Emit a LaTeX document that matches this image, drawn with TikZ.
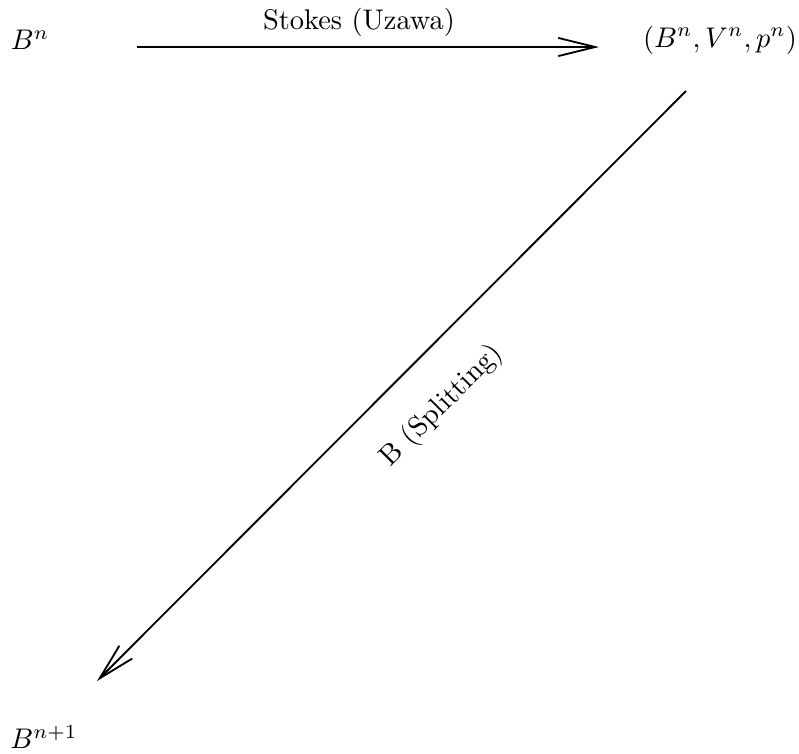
\documentclass[tikz,border=0pt]{standalone}
\usetikzlibrary{arrows.meta}
\begin{document}
\begin{tikzpicture}[x={(0.35207pt,0)},y={(0,-0.35207pt)},
  obj/.style={inner sep=0pt},
  arr/.style={line width=0.65pt,-{Straight Barb[length=13pt,width=6.4pt,line width=0.65pt]}},
  lbl/.style={inner sep=0pt}]
\useasboundingbox (0,0) rectangle (799,753);
\node[obj] (bn) at (30,40) {$B^n$};
\node[obj] (bvp) at (720,40) {$(B^n,V^n,p^n)$};
\node[obj] (bn1) at (44,737) {$B^{n+1}$};
\coordinate (h1) at (137,47);
\coordinate (h2) at (599,47);
\coordinate (d1) at (686,91);
\coordinate (d2) at (97,681);
\draw[arr] (h1) -- (h2);
\draw[arr] (d1) -- (d2);
\node[lbl] (stokes) at (359,22) {Stokes (Uzawa)};
\node[lbl,rotate=45] (split) at (442,406) {B (Splitting)};
\end{tikzpicture}
\end{document}
